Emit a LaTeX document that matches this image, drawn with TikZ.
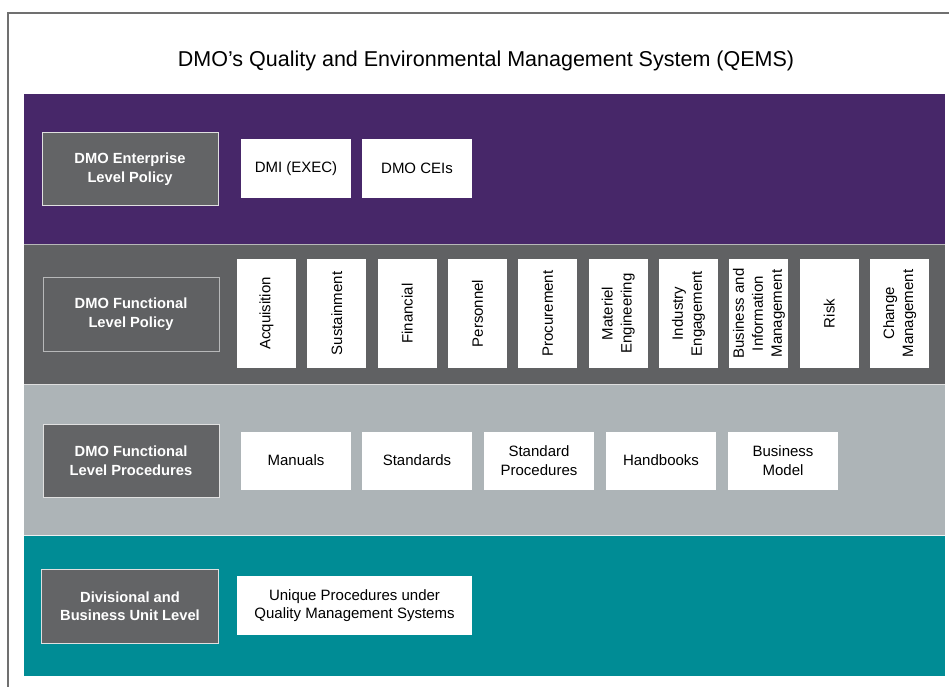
\documentclass[tikz,border=0pt]{standalone}
\usepackage{fontspec}
\setmainfont{Liberation Sans}
\definecolor{qpurple}{HTML}{472769}
\definecolor{qdark}{HTML}{606163}
\definecolor{qlight}{HTML}{ADB4B7}
\definecolor{qteal}{HTML}{008C95}
\definecolor{qlabel}{HTML}{636466}
\definecolor{qframe}{HTML}{707070}
\tikzset{
  band/.style={draw=white, draw opacity=0.55, line width=1pt},
  levelbox/.style={fill=qlabel, draw=white!80!qlabel, line width=1pt, text=white,
    minimum width=176pt, minimum height=73pt, inner sep=0pt, align=center,
    font=\fontsize{14.7}{18.5}\selectfont\bfseries},
  docbox/.style={fill=white, minimum width=110pt, minimum height=59pt, inner sep=0pt,
    align=center, font=\fontsize{15}{18.5}\selectfont},
  areabox/.style={fill=white, rotate=90, minimum width=109pt, minimum height=59pt,
    inner sep=0pt, align=center, font=\fontsize{15}{19}\selectfont},
}
\begin{document}
\begin{tikzpicture}[x=1pt,y=-1pt]
\useasboundingbox (0,0) rectangle (949,687);
\clip (0,0) rectangle (949,687);
% outer frame, running off the page to the right and bottom
\draw[qframe, line width=1.5pt] (8,700) -- (8,13) -- (960,13);
% title
\node (title) at (486,61) {\fontsize{21.5}{25}\selectfont DMO’s Quality and Environmental Management System (QEMS)};
% level bands
\draw[band, fill=qpurple] (23.5,94) rectangle (945,244);
\draw[band, fill=qdark] (23.5,244) rectangle (945,384.5);
\draw[band, fill=qlight] (23.5,384.5) rectangle (945,535.5);
\draw[band, fill=qteal] (23.5,535.5) rectangle (945,676);
% enterprise level
\node[levelbox] (ent) at (130,169) {DMO Enterprise\\Level Policy};
\node[docbox] (dmi) at (296,168.5) {DMI (EXEC)};
\node[docbox] (cei) at (417,168.5) {DMO CEIs};
% functional policy
\node[levelbox, fill=qdark, draw=white!55!qdark, minimum height=74pt] (fpol) at (131,314) {DMO Functional\\Level Policy};
\foreach \t [count=\i from 0] in {Acquisition, Sustainment, Financial, Personnel, Procurement,
    {Materiel\\Engineering}, {Industry\\Engagement}, {Business and\\Information\\Management},
    Risk, {Change\\Management}}
  \node[areabox] (area\i) at (266.5+70.35*\i,313.5) {\t};
% functional procedures
\node[levelbox] (fproc) at (131,460.5) {DMO Functional\\Level Procedures};
\node[docbox, minimum height=58pt] (man) at (296,460.5) {Manuals};
\node[docbox, minimum height=58pt] (std) at (417,460.5) {Standards};
\node[docbox, minimum height=58pt] (sproc) at (539,460.5) {Standard\\Procedures};
\node[docbox, minimum height=58pt] (hb) at (661,460.5) {Handbooks};
\node[docbox, minimum height=58pt] (bm) at (783,460.5) {Business\\Model};
% divisional level
\node[levelbox, minimum width=177pt, minimum height=74pt] (div) at (130,606) {Divisional and\\Business Unit Level};
\node[docbox, minimum width=235pt] (uniq) at (354.5,605.5) {Unique Procedures under\\Quality Management Systems};
\end{tikzpicture}
\end{document}
